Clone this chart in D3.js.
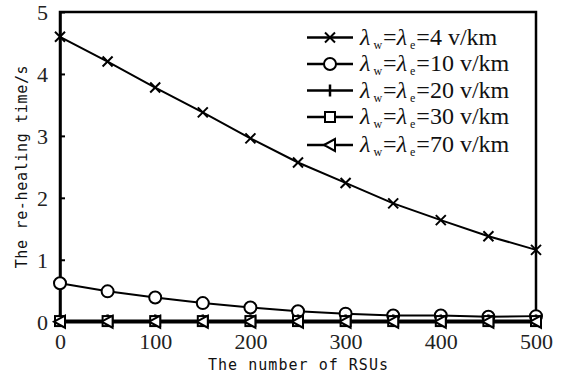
<!DOCTYPE html>
<html><head><meta charset="utf-8">
<script src="https://cdn.jsdelivr.net/npm/d3@7"></script>
<style>body{margin:0;background:#fff}</style>
</head><body>
<svg id="c" width="565" height="379"></svg>
<script>
const rsus = [0,50,100,150,200,250,300,350,400,450,500];
const densities = ["4","10","20","30","70"];
const s4  = [4.60,4.20,3.78,3.38,2.96,2.57,2.24,1.91,1.64,1.38,1.16];
const s10 = [0.62,0.49,0.39,0.30,0.23,0.17,0.13,0.10,0.10,0.08,0.09];
const s20 = [0.02,0.02,0.02,0.02,0.02,0.02,0.02,0.02,0.02,0.02,0.02];
const s30 = [0.01,0.01,0.01,0.01,0.01,0.01,0.01,0.01,0.01,0.01,0.01];
const s70 = [0,0,0,0,0,0,0,0,0,0,0];
const xTicks = [0,100,200,300,400,500];
const yTicks = [0,1,2,3,4,5];
const markers = ["cross","circle","plus","square","triangle"];
const allSeries = [s4,s10,s20,s30,s70];

const svg = d3.select("#c");
const L=60, R=536, T=12, B=321.7;
const x = d3.scaleLinear().domain([0,500]).range([L,R]);
const y = d3.scaleLinear().domain([0,5]).range([B,T]);

svg.append("rect").attr("x",L).attr("y",T).attr("width",R-L).attr("height",B-T)
  .attr("fill","none").attr("stroke","#000").attr("stroke-width",2.5);

const serif = "'Liberation Serif','Times New Roman',serif";
const xa = svg.append("g").attr("transform",`translate(0,${B})`)
  .call(d3.axisBottom(x).tickValues(xTicks).tickFormat(d3.format("d")).tickSizeInner(-5).tickSizeOuter(0).tickPadding(12));
const ya = svg.append("g").attr("transform",`translate(${L},0)`)
  .call(d3.axisLeft(y).tickValues(yTicks).tickFormat(d3.format("d")).tickSizeInner(-5).tickSizeOuter(0).tickPadding(12));
[xa,ya].forEach(a=>{
  a.select(".domain").attr("stroke","#000").attr("stroke-width",2.5);
  a.selectAll(".tick line").attr("stroke","#000").attr("stroke-width",2);
  a.selectAll(".tick text").attr("font-family",serif).attr("font-size",22).attr("fill","#222");
});
ya.selectAll(".tick text").attr("dy","0.36em");

const sans = "'DejaVu Sans Mono',monospace";
svg.append("text").attr("x",(L+R)/2).attr("y",370).attr("text-anchor","middle")
  .attr("font-family",sans).attr("font-size",15).attr("fill","#111")
  .attr("textLength",180).attr("lengthAdjust","spacing").text("The number of RSUs");
svg.append("text").attr("transform",`translate(27,${(T+B)/2}) rotate(-90)`).attr("text-anchor","middle")
  .attr("font-family",sans).attr("font-size",15).attr("fill","#111")
  .attr("textLength",203).attr("lengthAdjust","spacing").text("The re-healing time/s");

function drawMarker(g, type, cx, cy){
  if(type==="cross"){
    g.append("path").attr("d",`M${cx-5},${cy-5}L${cx+5},${cy+5}M${cx-5},${cy+5}L${cx+5},${cy-5}`)
      .attr("stroke","#000").attr("stroke-width",2);
  } else if(type==="circle"){
    g.append("circle").attr("cx",cx).attr("cy",cy).attr("r",6).attr("fill","#fff").attr("stroke","#000").attr("stroke-width",2);
  } else if(type==="plus"){
    g.append("path").attr("d",`M${cx},${cy-6}L${cx},${cy+6}`).attr("stroke","#000").attr("stroke-width",2.5);
  } else if(type==="square"){
    g.append("rect").attr("x",cx-5).attr("y",cy-5).attr("width",10).attr("height",10).attr("fill","#fff").attr("stroke","#000").attr("stroke-width",2);
  } else if(type==="triangle"){
    g.append("path").attr("d",`M${cx-6},${cy}L${cx+5},${cy-6}L${cx+5},${cy+6}Z`).attr("fill","#fff").attr("stroke","#000").attr("stroke-width",2);
  }
}

const line = d3.line().x((d,i)=>x(rsus[i])).y(d=>y(d));
allSeries.forEach((s,k)=>{
  const g = svg.append("g");
  g.append("path").datum(s).attr("d",line).attr("fill","none").attr("stroke","#000").attr("stroke-width",2);
  s.forEach((v,i)=>drawMarker(g, markers[k], x(rsus[i]), y(v)));
});

const legY = [37.5,64,90.5,117,145];
densities.forEach((d,k)=>{
  const g = svg.append("g");
  const cy = legY[k];
  g.append("line").attr("x1",307).attr("x2",353).attr("y1",cy).attr("y2",cy).attr("stroke","#000").attr("stroke-width",2.5);
  drawMarker(g, markers[k], 330, cy);
  const t = g.append("text").attr("x",360).attr("y",cy+7).attr("font-family",serif).attr("font-size",24).attr("fill","#111");
  t.append("tspan").attr("font-style","italic").text("λ");
  t.append("tspan").attr("font-size",12).attr("dx",3).attr("dy",4).text("w");
  t.append("tspan").attr("dx",1).attr("dy",-4).text("=");
  t.append("tspan").attr("font-style","italic").text("λ");
  t.append("tspan").attr("font-size",12).attr("dx",3).attr("dy",4).text("e");
  t.append("tspan").attr("dx",1).attr("dy",-4).text("="+d+" v/km");
});
</script>
</body></html>
